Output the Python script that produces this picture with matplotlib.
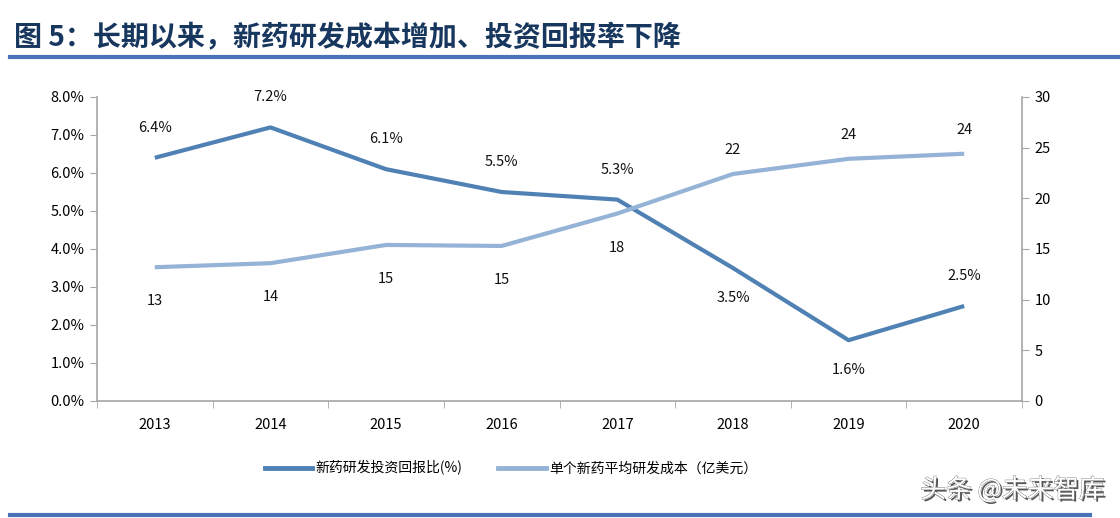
import matplotlib
matplotlib.use("Agg")
import matplotlib.pyplot as plt
import matplotlib.patheffects as pe
from matplotlib.lines import Line2D

plt.rcParams['font.family'] = ['Noto Sans CJK SC', 'DejaVu Sans']

years = ['2013', '2014', '2015', '2016', '2017', '2018', '2019', '2020']
returns = [6.4, 7.2, 6.1, 5.5, 5.3, 3.5, 1.6, 2.5]
costs = [13.2, 13.6, 15.4, 15.3, 18.5, 22.4, 23.9, 24.4]
return_labels = ['6.4%', '7.2%', '6.1%', '5.5%', '5.3%', '3.5%', '1.6%', '2.5%']
cost_labels = ['13', '14', '15', '15', '18', '22', '24', '24']
return_above = [True, True, True, True, True, False, False, True]
cost_above = [False, False, False, False, False, True, True, True]

title = '图 5：长期以来，新药研发成本增加、投资回报率下降'
series_names = ['新药研发投资回报比(%)', '单个新药平均研发成本（亿美元）']

c_dark = '#4f81b5'
c_light = '#95b3d7'
axis_c = '#a6a6a6'

fig = plt.figure(figsize=(11.2, 5.18), dpi=100)
ax = fig.add_axes([97/1120, 1-401/518, (1022-97)/1120, (401-97)/518])
ax2 = ax.twinx()

x = list(range(len(years)))
ax.plot(x, returns, color=c_dark, lw=3, solid_capstyle='butt', zorder=3)
ax2.plot(x, costs, color=c_light, lw=3, solid_capstyle='butt', zorder=2)

ax.set_xlim(-0.5, len(years) - 0.5)
ax.set_ylim(0, 8)
ax2.set_ylim(0, 30)
ax.set_yticks([i for i in range(9)])
ax.set_yticklabels([f'{i:.1f}%' for i in range(9)])
ax2.set_yticks(range(0, 31, 5))
ax.set_xticks(x)
ax.set_xticklabels(years)
ax.set_xticks([i + 0.5 for i in range(-1, len(years))], minor=True)
ax.tick_params(axis='x', which='major', length=0, pad=12, labelsize=10.5)
ax.tick_params(axis='x', which='minor', length=5, color=axis_c, direction='out')
ax.tick_params(axis='y', length=5, color=axis_c, labelsize=10.5, pad=4)
ax2.tick_params(axis='y', length=5, color=axis_c, labelsize=10.5, pad=4)

for a in (ax, ax2):
    a.spines['top'].set_visible(False)
    for s in ('left', 'right', 'bottom'):
        a.spines[s].set_color(axis_c)
        a.spines[s].set_linewidth(1.2)
ax.spines['right'].set_visible(False)
ax2.spines['left'].set_visible(False)
ax2.spines['bottom'].set_visible(False)

for i, (v, lab, up) in enumerate(zip(returns, return_labels, return_above)):
    ax.annotate(lab, (i, v), xytext=(0, 30 if up else -30), textcoords='offset pixels',
                ha='center', va='center', fontsize=10.5, color='#111111')
for i, (v, lab, up) in enumerate(zip(costs, cost_labels, cost_above)):
    ax2.annotate(lab, (i, v), xytext=(0, 24 if up else -34), textcoords='offset pixels',
                 ha='center', va='center', fontsize=10.5, color='#111111')

# title
fig.text(14/1120, 1-38/518, title, fontsize=20.2, fontweight='bold', color='#17375e',
         ha='left', va='center')
fig.add_artist(Line2D([10/1120, 1.0], [1-57/518, 1-57/518], color='#4a72b8', lw=3))
fig.add_artist(Line2D([10/1120, 1090/1120], [1-515/518, 1-515/518], color='#4a72b8', lw=3))

handles = [Line2D([], [], color=c_dark, lw=3.5), Line2D([], [], color=c_light, lw=3.5)]
fig.legend(handles, series_names, loc='center', bbox_to_anchor=(511/1120, 1-468/518),
           ncol=2, frameon=False, fontsize=10, handlelength=3.4, handletextpad=0.25,
           columnspacing=2.6)

fig.text(1105/1120, 1-490/518, '头条 @未来智库', fontsize=18.5, color='white', ha='right', va='center',
         path_effects=[pe.withSimplePatchShadow(offset=(1.5, -1.5), shadow_rgbFace='#444444', alpha=0.9),
                       pe.Stroke(linewidth=0.6, foreground='#777777'), pe.Normal()])

fig.savefig('out.png', dpi=100)
